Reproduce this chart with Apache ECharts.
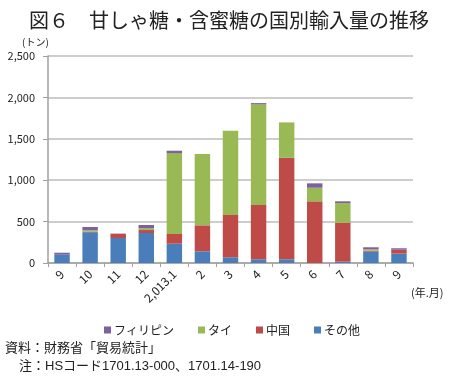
<!DOCTYPE html>
<html>
<head>
<meta charset="utf-8">
<script src="https://cdn.jsdelivr.net/npm/echarts@6/dist/echarts.min.js"></script>
<style>
html,body{margin:0;padding:0;background:#fff;}
#chart{width:450px;height:382px;}
</style>
</head>
<body>
<div id="chart"></div>
<script>
// Data
var categories = ['9', '10', '11', '12', '2,013.1', '2', '3', '4', '5', '6', '7', '8', '9'];
var sonota = [100, 372, 302, 362, 233, 141, 69, 45, 45, 0, 16, 137, 113];
var chugoku = [0, 5, 48, 36, 117, 314, 511, 655, 1226, 745, 471, 12, 48];
var tai = [0, 18, 0, 21, 978, 861, 1017, 1216, 427, 164, 237, 16, 0];
var philippines = [24, 40, 5, 40, 28, 0, 0, 15, 0, 53, 21, 25, 17];
var yTicks = [0, 500, 1000, 1500, 2000, 2500];

var FONT = '"Noto Sans CJK JP", "Noto Sans", sans-serif';
var MIXED = '"Liberation Sans", "Noto Sans CJK JP", sans-serif';
var chart = echarts.init(document.getElementById('chart'), null, {renderer: 'canvas'});

function ser(name, data, color) {
  return {
    name: name, type: 'bar', stack: 'total', data: data, barWidth: '55%',
    itemStyle: {color: color}
  };
}

var option = {
  animation: false,
  backgroundColor: '#ffffff',
  textStyle: {fontFamily: FONT},
  title: {
    text: '図６　甘しゃ糖・含蜜糖の国別輸入量の推移',
    left: 24, top: 5,
    textStyle: {fontFamily: FONT, fontSize: 20, fontWeight: 'normal', color: '#222'}
  },
  grid: {left: 48, right: 37, top: 56, bottom: 119, containLabel: false},
  legend: {
    data: ['フィリピン', 'タイ', '中国', 'その他'],
    left: 99, top: 319,
    itemWidth: 7, itemHeight: 7, itemGap: 24,
    icon: 'rect',
    textStyle: {fontFamily: FONT, fontSize: 12, color: '#222', padding: [0, 0, 0, -2]}
  },
  xAxis: {
    type: 'category',
    data: categories,
    axisLine: {lineStyle: {color: '#a0a0a0', width: 1.5}},
    axisTick: {show: true, length: 4, lineStyle: {color: '#a0a0a0'}},
    axisLabel: {rotate: 45, fontSize: 12, color: '#222', margin: 9, fontFamily: FONT}
  },
  yAxis: {
    type: 'value',
    min: yTicks[0], max: yTicks[yTicks.length - 1], interval: 500,
    axisLine: {show: true, lineStyle: {color: '#a0a0a0', width: 1.5}},
    axisTick: {show: true, length: 5, lineStyle: {color: '#a0a0a0'}},
    axisLabel: {
      fontSize: 11, color: '#222', margin: 13, fontFamily: FONT,
      formatter: function (v) { return v.toLocaleString('en-US'); }
    },
    splitLine: {lineStyle: {color: '#bdbdbd', width: 1.5}}
  },
  graphic: [
    {type: 'text', left: 22, top: 37, style: {text: '(トン)', font: '10px ' + FONT, fill: '#222'}},
    {type: 'text', left: 411, top: 287, style: {text: '(年.月)', font: '11px ' + FONT, fill: '#222'}},
    {type: 'text', left: 5, top: 342, style: {text: '資料：財務省「貿易統計」', font: '13px ' + MIXED, fill: '#222'}},
    {type: 'text', left: 19, top: 360, style: {text: '注：HSコード1701.13-000、1701.14-190', font: '13px ' + MIXED, fill: '#222'}}
  ],
  series: [
    ser('その他', sonota, '#4a7ebb'),
    ser('中国', chugoku, '#be4b48'),
    ser('タイ', tai, '#98b954'),
    ser('フィリピン', philippines, '#7d60a0')
  ]
};
chart.setOption(option);
</script>
</body>
</html>
